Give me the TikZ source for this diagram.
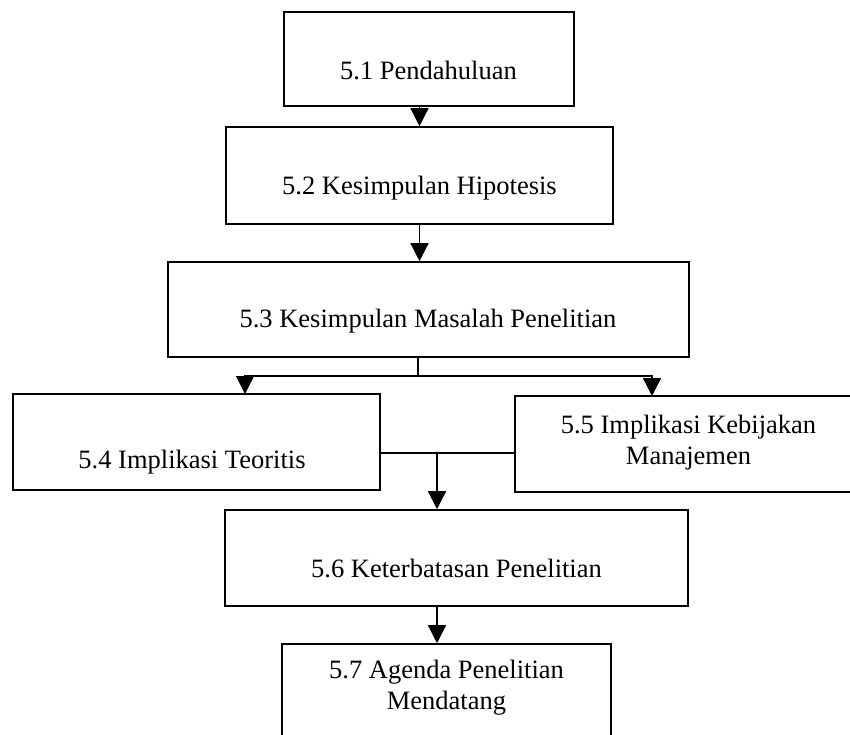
\documentclass[tikz,border=0pt]{standalone}
\usepackage{fontspec}
\setmainfont{Liberation Serif}
\usetikzlibrary{arrows.meta}
\begin{document}
\begin{tikzpicture}[x=1pt,y=-1pt,
  box/.style={draw,line width=1.6pt,rectangle,inner sep=0pt},
  lbl/.style={inner sep=0pt,anchor=base,align=center,
    font=\fontsize{26.5}{31}\selectfont},
  link/.style={line width=1.4pt},
  arr/.style={line width=1.4pt,-{Triangle[width=18pt,length=18pt]}}]
\useasboundingbox (0,0) rectangle (850,734);
% boxes
\node[box,minimum width=290pt,minimum height=94pt] (b1) at (429,59) {};
\node[box,minimum width=387pt,minimum height=97pt] (b2) at (419.5,175.5) {};
\node[box,minimum width=521pt,minimum height=95pt] (b3) at (428.5,309.5) {};
\node[box,minimum width=367pt,minimum height=96pt] (b4) at (196.5,442) {};
\node[box,minimum width=346pt,minimum height=96pt] (b5) at (688,444) {};
\node[box,minimum width=463pt,minimum height=96pt] (b6) at (456.5,558) {};
\node[box,minimum width=329pt,minimum height=96pt] (b7) at (446.5,692) {};
% texts (two-line labels sit on the baseline of their last line)
\node[lbl] (t1) at (428.5,79) {5.1 Pendahuluan};
\node[lbl] (t2) at (419.5,194) {5.2 Kesimpulan Hipotesis};
\node[lbl] (t3) at (428,327) {5.3 Kesimpulan Masalah Penelitian};
\node[lbl] (t4) at (192,468) {5.4 Implikasi Teoritis};
\node[lbl] (t5) at (688.5,464) {5.5 Implikasi Kebijakan\\Manajemen};
\node[lbl] (t6) at (456.5,577) {5.6 Keterbatasan Penelitian};
\node[lbl] (t7) at (446.5,709) {5.7 Agenda Penelitian\\Mendatang};
% connector points
\coordinate (split) at (418,376);
\coordinate (in4) at (245,394);
\coordinate (in5) at (652,396);
\coordinate (merge) at (437,453);
% connectors
\draw[arr] (b1.south -| b2.north) -- (b2.north);
\draw[arr] (b2.south) -- (b2.south |- b3.north);
\draw[link] (b3.south -| split) -- (split);
\draw[arr] (split) -| (in4);
\draw[arr] (split) -| (in5);
\draw[link] (b4.east |- merge) -- (b5.west |- merge);
\draw[arr] (merge) -- (merge |- b6.north);
\draw[arr] (merge |- b6.south) -- (merge |- b7.north);
\end{tikzpicture}
\end{document}
